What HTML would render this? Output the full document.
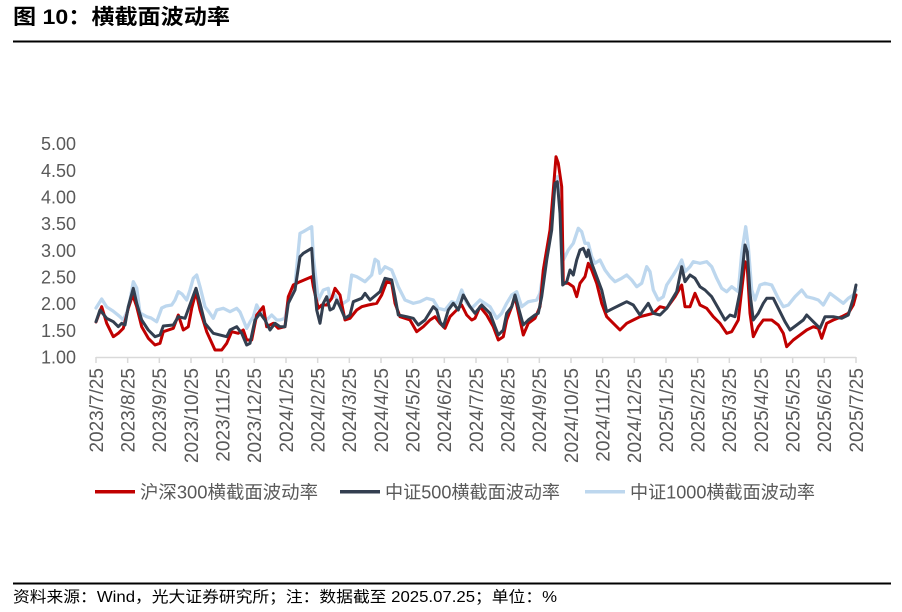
<!DOCTYPE html>
<html><head><meta charset="utf-8"><style>
html,body{margin:0;padding:0;background:#fff;}
svg{display:block;}
text{font-family:"Liberation Sans","Noto Sans CJK SC",sans-serif;}
</style></head><body>
<svg width="902" height="612" viewBox="0 0 902 612" xmlns="http://www.w3.org/2000/svg">
<rect width="902" height="612" fill="#fff"/>
<text x="13" y="24" font-size="21" font-weight="bold" fill="#000" textLength="217" lengthAdjust="spacingAndGlyphs">图 10：横截面波动率</text>
<line x1="13" y1="41.5" x2="891" y2="41.5" stroke="#000" stroke-width="2"/>

<g font-size="18" fill="#595959" text-anchor="end">
<text x="76" y="150">5.00</text>
<text x="76" y="177">4.50</text>
<text x="76" y="203.5">4.00</text>
<text x="76" y="230">3.50</text>
<text x="76" y="257">3.00</text>
<text x="76" y="283.5">2.50</text>
<text x="76" y="310">2.00</text>
<text x="76" y="337">1.50</text>
<text x="76" y="363.5">1.00</text>
</g>

<line x1="96" y1="357.5" x2="856" y2="357.5" stroke="#D9D9D9" stroke-width="1.5"/>
<g stroke="#D9D9D9" stroke-width="1.5">
<line x1="96" y1="357" x2="96" y2="363"/><line x1="127.67" y1="357" x2="127.67" y2="363"/><line x1="159.33" y1="357" x2="159.33" y2="363"/><line x1="191" y1="357" x2="191" y2="363"/><line x1="222.67" y1="357" x2="222.67" y2="363"/><line x1="254.33" y1="357" x2="254.33" y2="363"/><line x1="286" y1="357" x2="286" y2="363"/><line x1="317.67" y1="357" x2="317.67" y2="363"/><line x1="349.33" y1="357" x2="349.33" y2="363"/><line x1="381" y1="357" x2="381" y2="363"/><line x1="412.67" y1="357" x2="412.67" y2="363"/><line x1="444.33" y1="357" x2="444.33" y2="363"/><line x1="476" y1="357" x2="476" y2="363"/><line x1="507.67" y1="357" x2="507.67" y2="363"/><line x1="539.33" y1="357" x2="539.33" y2="363"/><line x1="571" y1="357" x2="571" y2="363"/><line x1="602.67" y1="357" x2="602.67" y2="363"/><line x1="634.33" y1="357" x2="634.33" y2="363"/><line x1="666" y1="357" x2="666" y2="363"/><line x1="697.67" y1="357" x2="697.67" y2="363"/><line x1="729.33" y1="357" x2="729.33" y2="363"/><line x1="761" y1="357" x2="761" y2="363"/><line x1="792.67" y1="357" x2="792.67" y2="363"/><line x1="824.33" y1="357" x2="824.33" y2="363"/><line x1="856" y1="357" x2="856" y2="363"/>
</g>

<g font-size="19" fill="#595959" text-anchor="end">
<text transform="translate(102.8,368) rotate(-90)">2023/7/25</text>
<text transform="translate(134.5,368) rotate(-90)">2023/8/25</text>
<text transform="translate(166.1,368) rotate(-90)">2023/9/25</text>
<text transform="translate(197.8,368) rotate(-90)">2023/10/25</text>
<text transform="translate(229.5,368) rotate(-90)">2023/11/25</text>
<text transform="translate(261.1,368) rotate(-90)">2023/12/25</text>
<text transform="translate(292.8,368) rotate(-90)">2024/1/25</text>
<text transform="translate(324.5,368) rotate(-90)">2024/2/25</text>
<text transform="translate(356.1,368) rotate(-90)">2024/3/25</text>
<text transform="translate(387.8,368) rotate(-90)">2024/4/25</text>
<text transform="translate(419.5,368) rotate(-90)">2024/5/25</text>
<text transform="translate(451.1,368) rotate(-90)">2024/6/25</text>
<text transform="translate(482.8,368) rotate(-90)">2024/7/25</text>
<text transform="translate(514.5,368) rotate(-90)">2024/8/25</text>
<text transform="translate(546.1,368) rotate(-90)">2024/9/25</text>
<text transform="translate(577.8,368) rotate(-90)">2024/10/25</text>
<text transform="translate(609.5,368) rotate(-90)">2024/11/25</text>
<text transform="translate(641.1,368) rotate(-90)">2024/12/25</text>
<text transform="translate(672.8,368) rotate(-90)">2025/1/25</text>
<text transform="translate(704.5,368) rotate(-90)">2025/2/25</text>
<text transform="translate(736.1,368) rotate(-90)">2025/3/25</text>
<text transform="translate(767.8,368) rotate(-90)">2025/4/25</text>
<text transform="translate(799.5,368) rotate(-90)">2025/5/25</text>
<text transform="translate(831.1,368) rotate(-90)">2025/6/25</text>
<text transform="translate(862.8,368) rotate(-90)">2025/7/25</text>
</g>

<g fill="none" stroke-width="3" stroke-linejoin="round" stroke-linecap="round">
<polyline stroke="#BDD7EE" stroke-width="3.3" points="96,308 101.7,299 106.7,307 113,311 120,316.7 123.3,320 127,312 130,300 133.3,281.7 136.7,288 140,313 146.7,316.7 151,318 156.7,321.7 161.7,308 166,306 171.7,305 175,300 178.3,291.7 182,294 186.7,300 190,290 193.3,278.3 196.7,275 200,286.7 205,306.7 209,312 213.3,318.3 216.7,310 223.3,308.3 230,311.7 236.7,308.3 240,312 243.3,320 246.7,328.3 250,322 253.3,316.7 256.7,305 260,311.7 266.7,320 271.7,315 276.7,320 280,320 285,318.3 288.3,300 295,285 300,233.3 303.3,231.7 311.7,226.7 313.3,256.7 318.3,300 323.3,290 328.3,288.3 330,300 335,295 338.3,301.7 343.3,303.3 348.3,300 351.7,275 356.7,276.7 365,281.7 371.7,275 375,259.3 378.3,261.7 380,273.3 385,266.7 391.7,270 398.3,286.7 405,300 413.3,303.3 420,301.7 426.7,298.3 433.3,300 438.3,308.3 445,310 451.7,301.7 456.7,303.3 461.7,290 466.7,303.3 471.7,308.3 475,305 480,300 490,306.7 496.7,318.3 501.7,313.3 506.7,303.3 511.7,295 516.7,291.7 521.7,306.7 528.3,301.7 536.7,300 540,293.3 545,260 551.7,223.3 555,178.3 557.3,176.7 560,190 563.3,260 568.3,250 573.3,243.3 578.3,228.3 581.7,231.7 585,243.3 588.3,243.3 591.7,256.7 595,263.3 600,260 605,270 610,276.7 615,281.7 621.7,278.3 626.7,275 631.7,280 636.7,286.7 641.7,283.3 646.7,266.7 650,271.7 653.3,290 658.3,300 663.3,296.7 666.7,285 673.3,275 678.3,266.7 681.7,260 685,271.7 690,266.7 693.3,261.7 700,263.3 706.7,261.7 711.7,266.7 716.7,278.3 721.7,288.3 726.7,291.7 731.7,286.7 738.3,291.7 741.7,253.3 745.7,226.7 748.3,246.7 751.7,290 755,300 760,285 765,283.3 771.7,285 778.3,298.3 783.3,306.7 788.3,305 795,296.7 801.7,290 806.7,296.7 813.3,298.3 818.3,300 823.3,305 830,293.3 836.7,298.3 843.3,303.3 848.3,298.3 853.3,295 856,290"/>
<polyline stroke="#C00000" points="96,322 101.7,306.7 106.7,323.3 113.3,336.7 118.3,333.3 123.3,328.3 128.3,308.3 132.7,295 136.7,306.7 141.7,326.7 148.3,338.3 155,345 160,343.3 163.3,331.7 173.3,328.3 178.3,315 183.3,330 188.3,326.7 191.7,308.3 196,291.7 200,310 206.7,331.7 215,350 221.7,350 226.7,343.3 231.7,331.7 238.3,333.3 243.3,330 246.7,340 251.7,340 256.7,315 263.3,306.7 266.7,326.7 273.3,323.3 278.3,328.3 285,326.7 288.3,296.7 293.3,285 300,281.7 311.7,276.7 313.3,286.7 318.3,308.3 321.7,305 326.7,305 331.7,298.3 335,288.3 340,295 345,320 350,318.3 356.7,310 361.7,306.7 368.3,305 376.7,303.3 381.7,295 386.7,281.7 391.7,283.3 395,303.3 400,316.7 410,320 416.7,331.7 423.3,326.7 430,320 435,316.7 440,323.3 445,328.3 450,316.7 456.7,310 461.7,305 466.7,315 471.7,320 475,318.3 480,306.7 486.7,315 493.3,326.7 498.3,340 503.3,336.7 506.7,320 511.7,306.7 515,296.7 520,320 523.3,335 528.3,323.3 535,318.3 540,306.7 543.3,270 550,230 553.3,190 556,156.7 558.3,163.3 561.7,186.7 563.3,283.3 568.3,283.3 573.3,286.7 576.7,296.7 580,283.3 585,276.7 588.3,263.3 591.7,270 596.7,283.3 601.7,303.3 606.7,316.7 613.3,323.3 620,330 626.7,323.3 633.3,320 640,316.7 646.7,315 653.3,313.3 660,306.7 666.7,308.3 675,296.7 681.7,285 685,306.7 690,306.7 695,293.3 700,305 706.7,308.3 713.3,316.7 720,323.3 726.7,333.3 731.7,331.7 738.3,320 741.7,290 745,261.7 747.3,268.3 750,313.3 753.3,336.7 758.3,326.7 763.3,320 771.7,320 778.3,325 783.3,333.3 786.7,346.7 793.3,340 800,335 806.7,330 813.3,326.7 818.3,328.3 821.7,338.3 826.7,323.3 833.3,320 841.7,316.7 848.3,313.3 853.3,305 856,295"/>
<polyline stroke="#333F50" points="96,321.7 100,310 106.7,318.3 113.3,321.7 118.3,326.7 121.7,323.3 125,325 128.3,306.7 133.3,288.3 136.7,303.3 141.7,320 148.3,330 155,336.7 160,335 163.3,326 173.3,325 178.3,316.7 185,318.3 191.7,300 196,288.3 200,303.3 205,323.3 213.3,333.3 226.7,336.7 230,330 236.7,326.7 241.7,333.3 246.7,345 250,343.3 255,320 260,313.3 265,320 270,330 275,323.3 280,326.7 285,326.7 288.3,303.3 295,290 300,256.7 303.3,253.3 311.7,248.3 313.3,273.3 316.7,310 320,323.3 323.3,303.3 326.7,296.7 330,310 333.3,308.3 336.7,300 340,306.7 345,318.3 350,315 353.3,301.7 361.7,298.3 365,293.3 370,300 380,291.7 385,278.3 391.7,280 395,296.7 398.3,315 406.7,316.7 413.3,318.3 418.3,325 425,320 433.3,306.7 436.7,310 440,321.7 443.3,326.7 448.3,310 453.3,303.3 458.3,310 463.3,295 470,306.7 475,313.3 481.7,305 490,313.3 495,326.7 498.3,335 503.3,330 506.7,313.3 511.7,306.7 515,295 520,313.3 523.3,325 528.3,320 535,315 538.3,313.3 541.7,296.7 546.7,260 551.7,230 555,183.3 557.3,181.7 560,213.3 562.7,285 566.7,281.7 570,270 573.3,275 576.7,260 580,250 583.3,248.3 586.7,256.7 588.3,250 591.7,263.3 596.7,276.7 601.7,290 606.7,311.7 613.3,308.3 620,305 626.7,301.7 633.3,305 640,315 648.3,303.3 653.3,313.3 660,315 666.7,308.3 676.7,291.7 681.7,266.7 685,281.7 690,275 695,278.3 700,286.7 705,290 711.7,296.7 718.3,308.3 725,320 730,315 735,316.7 740,291.7 745,245 747.3,251.7 750,293.3 753.3,320 758.3,313.3 763.3,303.3 766.7,298.3 773.3,298.3 778.3,308.3 785,321.7 790,330 796.7,325 803.3,320 806.7,315 813.3,321.7 820,328.3 825,316.7 833.3,316.7 841.7,318.3 848.3,315 853.3,298.3 856,285"/>
</g>

<g stroke-width="3.5" stroke-linecap="butt">
<line x1="95" y1="491.7" x2="135" y2="491.7" stroke="#C00000"/>
<line x1="340" y1="491.7" x2="380" y2="491.7" stroke="#333F50"/>
<line x1="585" y1="491.7" x2="625" y2="491.7" stroke="#BDD7EE"/>
</g>
<g font-size="18" fill="#595959">
<text x="140" y="498.5" textLength="178" lengthAdjust="spacingAndGlyphs">沪深300横截面波动率</text>
<text x="385" y="498.5" textLength="175" lengthAdjust="spacingAndGlyphs">中证500横截面波动率</text>
<text x="630" y="498.5" textLength="185" lengthAdjust="spacingAndGlyphs">中证1000横截面波动率</text>
</g>

<line x1="13" y1="583.5" x2="891" y2="583.5" stroke="#000" stroke-width="2"/>
<text x="13" y="602" font-size="15.5" fill="#000" textLength="544" lengthAdjust="spacingAndGlyphs">资料来源：Wind，光大证券研究所；注：数据截至 2025.07.25；单位：%</text>
</svg>
</body></html>
